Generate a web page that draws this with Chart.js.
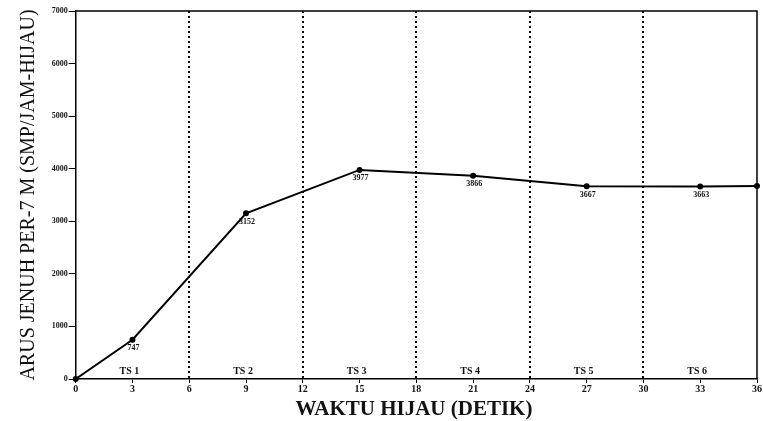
<!DOCTYPE html>
<html>
<head>
<meta charset="utf-8">
<script src="https://cdn.jsdelivr.net/npm/chart.js@4"></script>
<style>
html,body{margin:0;padding:0;background:#fff;}
#wrap{width:763px;height:421px;position:relative;}
</style>
</head>
<body>
<div id="wrap"><canvas id="c" width="763" height="421"></canvas></div>
<script>
// Data
const greenTimes = [0, 3, 9, 15, 21, 27, 33, 36];
const saturationFlow = [0, 747, 3152, 3977, 3866, 3667, 3663, 3670];
const pointLabels = ["", "747", "3152", "3977", "3866", "3667", "3663", ""];
const phaseLabels = ["TS 1", "TS 2", "TS 3", "TS 4", "TS 5", "TS 6"];
const phaseCenters = [3, 9, 15, 21, 27, 33];
const phaseBounds = [6, 12, 18, 24, 30];
const yTitle = "ARUS JENUH PER-7 M (SMP/JAM-HIJAU)";
const xTitle = "WAKTU HIJAU (DETIK)";

const SERIF = '"Liberation Serif", "DejaVu Serif", serif';

const decor = {
  id: 'decor',
  beforeDatasetsDraw(chart) {
    const {ctx, chartArea: a, scales} = chart;
    const xs = scales.x;
    ctx.save();
    ctx.strokeStyle = '#000';
    ctx.lineWidth = 2;
    ctx.setLineDash([2, 3]);
    phaseBounds.forEach(v => {
      const px = Math.round(xs.getPixelForValue(v));
      ctx.beginPath();
      ctx.moveTo(px, a.top);
      ctx.lineTo(px, a.bottom);
      ctx.stroke();
    });
    ctx.restore();
  },
  afterDatasetsDraw(chart) {
    const {ctx, chartArea: a, scales} = chart;
    const xs = scales.x, ys = scales.y;
    ctx.save();
    // frame top and right
    ctx.strokeStyle = '#000';
    ctx.lineWidth = 1.5;
    ctx.beginPath();
    ctx.moveTo(a.left, a.top); ctx.lineTo(a.right, a.top); ctx.lineTo(a.right, a.bottom);
    ctx.stroke();
    // point labels
    ctx.fillStyle = '#111';
    ctx.font = 'bold 8px ' + SERIF;
    ctx.textAlign = 'center';
    ctx.textBaseline = 'middle';
    greenTimes.forEach((t, i) => {
      if (!pointLabels[i]) return;
      const px = xs.getPixelForValue(t);
      const py = ys.getPixelForValue(saturationFlow[i]);
      ctx.fillText(pointLabels[i], px + 1, py + 8.5);
    });
    // phase labels
    ctx.font = 'bold 10px ' + SERIF;
    phaseLabels.forEach((lab, i) => {
      const px = xs.getPixelForValue(phaseCenters[i]);
      ctx.fillText(lab, px - 3, a.bottom - 8);
    });
    // axis titles
    ctx.font = '20px ' + SERIF;
    ctx.save();
    ctx.translate(29, (a.top + a.bottom) / 2);
    ctx.rotate(-Math.PI / 2);
    ctx.fillText(yTitle, 0, 0);
    ctx.restore();
    ctx.font = 'bold 21px ' + SERIF;
    ctx.fillText(xTitle, 414, 410);
    ctx.restore();
  }
};

new Chart(document.getElementById('c'), {
  type: 'line',
  data: {
    datasets: [{
      data: greenTimes.map((t, i) => ({x: t, y: saturationFlow[i]})),
      borderColor: '#000',
      borderWidth: 2,
      pointRadius: 2,
      pointBackgroundColor: '#000',
      pointBorderColor: '#000',
      tension: 0,
      clip: false
    }]
  },
  options: {
    responsive: false,
    animation: false,
    devicePixelRatio: 1,
    layout: {padding: {top: 11, right: 1.5, left: 0, bottom: 0}},
    plugins: {legend: {display: false}, tooltip: {enabled: false}},
    scales: {
      x: {
        type: 'linear',
        min: 0, max: 36,
        afterFit(s) { s.height = 42; },
        ticks: {stepSize: 3, color: '#111', padding: 0, font: {family: SERIF, size: 10, weight: 'bold'}, maxRotation: 0, autoSkip: false},
        grid: {
          drawOnChartArea: false,
          tickColor: '#000',
          tickLength: 4,
          tickWidth: 1
        },
        border: {display: true, color: '#000', width: 1.5}
      },
      y: {
        min: 0, max: 7000,
        afterFit(s) { s.width = 75.7; },
        ticks: {stepSize: 1000, color: '#111', padding: 1, font: {family: SERIF, size: 8, weight: 'bold'}, callback: v => String(v)},
        grid: {drawOnChartArea: false, tickColor: '#000', tickLength: 7, tickWidth: 1},
        border: {display: true, color: '#000', width: 1.5}
      }
    }
  },
  plugins: [decor]
});
</script>
</body>
</html>
